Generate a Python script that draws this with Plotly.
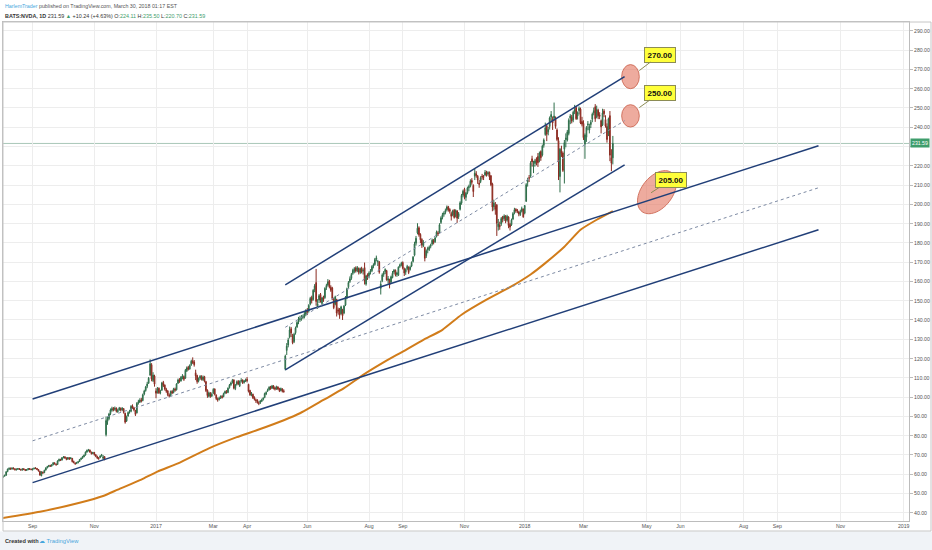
import numpy as np
import pandas as pd
import plotly.graph_objects as go

# NYSE closures inside the traded window (TradingView skips these bars)
NYSE_HOLIDAYS = ["2016-09-05", "2016-11-24", "2016-12-26", "2017-01-02", "2017-01-16",
                 "2017-02-20", "2017-04-14", "2017-05-29", "2017-07-04", "2017-09-04",
                 "2017-11-23", "2017-12-25", "2018-01-01", "2018-01-15", "2018-02-19"]

# daily NVDA bars, 2016-08-01 .. 2018-03-29 (one row per month)
opens = [
    57.6, 58.3, 57.7, 58.5, 59.0, 59.4, 61.4, 62.5, 63.1, 62.6, 63.2, 62.8, 62.3, 62.5, 62.9, 62.4, 62.1, 62.8, 62.4, 62.0, 62.3, 62.9, 62.6,
    62.3, 62.8, 63.2, 63.0, 62.4, 61.5, 59.2, 61.0, 60.8, 62.1, 63.3, 64.0, 64.5, 64.2, 64.9, 65.9, 65.2, 65.0, 66.9, 67.6, 67.3,
    68.6, 69.0, 68.4, 67.8, 68.5, 68.0, 68.2, 66.6, 65.8, 65.6, 66.0, 66.6, 67.7, 68.3, 69.0, 69.9, 71.5, 72.2, 72.5, 71.4, 70.7,
    71.3, 70.1, 69.2, 68.3, 68.6, 69.5, 68.2, 69.1, 80.5, 87.4, 88.8, 91.4, 93.1, 94.2, 93.6, 94.3, 92.4, 93.3, 94.2, 93.4, 94.0,
    91.6, 87.6, 90.2, 92.3, 92.6, 95.4, 94.4, 93.0, 91.8, 97.0, 97.4, 98.6, 98.2, 101.6, 103.4, 105.6, 107.2, 111.4, 116.8, 108.6, 110.9,
    103.2, 102.4, 104.6, 102.4, 103.6, 107.6, 106.2, 104.0, 103.2, 101.0, 100.8, 103.0, 102.4, 104.2, 103.8, 107.2, 109.0, 108.4, 110.0, 110.6,
    109.8, 113.6, 115.4, 114.6, 116.8, 118.8, 118.2, 112.6, 111.2, 108.4, 109.8, 110.6, 109.0, 110.6, 108.0, 103.6, 100.4, 102.0, 100.6,
    102.2, 104.2, 101.0, 99.0, 98.8, 99.6, 100.4, 100.2, 102.0, 102.8, 102.4, 104.9, 106.4, 107.6, 108.9, 104.4, 106.6, 108.2, 105.8, 108.4, 108.8, 107.6, 108.2,
    109.2, 106.6, 103.4, 101.0, 101.4, 99.8, 98.6, 98.4, 97.0, 97.2, 97.8, 98.8, 99.8, 101.6, 103.2, 103.8, 105.2, 104.6, 105.8,
    104.8, 104.2, 105.2, 104.4, 103.4, 104.2, 103.2, 114.5, 124.2, 127.0, 131.2, 135.4, 131.6, 128.8, 133.4, 136.4, 139.6, 140.2, 141.0, 141.2, 141.6, 143.0,
    145.0, 144.6, 148.2, 151.6, 150.6, 155.8, 159.4, 146.2, 150.4, 153.2, 148.6, 151.8, 151.6, 156.8, 158.2, 160.2, 157.0, 156.6, 150.8, 148.2, 150.6, 145.2,
    145.6, 143.2, 145.2, 143.6, 147.8, 151.8, 157.2, 160.0, 161.6, 164.2, 165.2, 167.0, 165.6, 166.8, 164.6, 166.8, 165.4, 167.2, 158.6, 163.4,
    162.8, 164.8, 165.6, 168.0, 168.8, 171.6, 170.2, 170.0, 156.4, 160.4, 163.6, 165.0, 165.6, 160.6, 161.0, 159.6, 162.0, 164.8, 165.8, 163.6, 163.2, 167.8, 168.6,
    169.8, 166.6, 164.8, 166.6, 167.4, 166.2, 168.0, 170.4, 173.6, 179.8, 185.2, 187.8, 184.4, 181.8, 178.6, 177.6, 173.4, 176.4, 176.6, 178.2,
    179.4, 181.2, 180.6, 183.4, 185.2, 185.4, 190.6, 193.2, 194.8, 195.8, 197.2, 198.8, 197.4, 195.2, 194.4, 197.0, 193.8, 196.6, 193.6, 197.4, 200.6, 204.8,
    207.8, 203.6, 206.0, 208.6, 209.4, 212.4, 209.8, 214.6, 215.8, 214.6, 211.0, 211.8, 214.6, 214.4, 215.2, 216.8, 215.8, 216.6, 214.8, 210.6, 198.8,
    199.2, 199.6, 188.4, 189.2, 189.8, 193.6, 192.6, 193.8, 191.8, 193.4, 189.6, 189.4, 192.4, 195.8, 197.4, 196.8, 196.0, 194.6, 196.4, 197.6,
    195.4, 201.6, 211.4, 213.8, 214.6, 223.6, 219.6, 221.2, 223.4, 224.8, 222.6, 227.4, 225.6, 230.6, 236.2, 240.8, 237.6, 240.4, 245.2, 244.4, 244.6,
    244.2, 238.6, 233.0, 214.4, 227.8, 226.6, 228.6, 233.6, 233.4, 236.8, 244.8, 245.2, 243.8, 248.0, 250.2, 245.8, 248.6, 249.4, 243.0,
    242.0, 231.2, 234.8, 241.2, 238.6, 241.4, 244.2, 247.4, 250.6, 245.2, 248.8, 246.4, 243.4, 241.2, 248.4, 244.0, 240.4, 237.6, 246.0, 224.2, 224.11,
]
highs = [
    58.5, 58.6, 58.7, 59.2, 59.8, 61.6, 62.9, 63.5, 63.4, 63.6, 63.5, 63.0, 62.9, 63.2, 63.1, 62.8, 63.0, 63.1, 62.6, 62.7, 63.2, 63.1, 62.9,
    63.0, 63.4, 63.6, 63.2, 62.6, 61.7, 61.5, 61.4, 62.3, 63.6, 64.3, 64.8, 64.9, 65.1, 66.2, 66.1, 65.6, 67.2, 68.1, 68.0, 68.9,
    69.4, 69.3, 68.7, 68.9, 68.8, 68.9, 68.4, 67.0, 66.1, 66.4, 66.8, 67.9, 68.6, 69.5, 70.2, 71.8, 72.8, 73.1, 72.8, 71.7, 71.6,
    71.5, 70.4, 69.6, 68.9, 69.8, 70.5, 69.9, 69.4, 89.9, 89.8, 91.8, 94.1, 95.0, 94.8, 95.1, 94.6, 93.9, 94.9, 94.6, 94.8, 94.3,
    91.9, 90.4, 92.6, 93.3, 95.8, 96.2, 94.9, 93.4, 97.4, 98.6, 99.4, 99.6, 101.8, 103.8, 105.8, 107.9, 110.4, 119.6, 117.6, 112.9, 111.6,
    104.6, 105.2, 105.0, 103.8, 107.9, 108.4, 106.6, 104.8, 103.6, 101.9, 103.4, 103.6, 104.8, 104.9, 107.2, 109.6, 109.8, 110.9, 111.9, 111.2,
    114.6, 115.9, 116.2, 117.0, 119.4, 120.6, 119.2, 114.2, 111.6, 110.2, 111.4, 111.3, 111.2, 111.0, 108.4, 104.0, 102.8, 102.6, 102.4,
    104.6, 104.5, 101.4, 99.8, 100.2, 100.9, 101.0, 102.3, 103.4, 103.6, 105.0, 106.8, 108.0, 109.4, 109.2, 106.8, 108.6, 108.8, 108.6, 109.8, 109.2, 108.9, 109.6,
    110.4, 106.9, 103.8, 102.6, 101.8, 100.4, 99.2, 98.9, 97.8, 98.4, 99.2, 99.9, 102.3, 103.0, 104.4, 105.6, 105.8, 106.3, 106.2,
    105.4, 105.9, 105.6, 104.8, 104.9, 104.6, 104.0, 122.0, 128.0, 130.8, 136.6, 136.4, 132.8, 133.4, 136.6, 139.6, 141.6, 142.2, 142.6, 142.8, 144.6, 145.6,
    146.2, 148.2, 152.0, 152.6, 156.0, 158.6, 166.5, 150.8, 153.4, 154.0, 152.0, 152.6, 157.0, 158.8, 161.2, 160.8, 158.0, 157.2, 151.4, 152.6, 151.0, 146.4,
    146.2, 147.4, 145.8, 147.8, 152.4, 156.8, 160.2, 162.6, 164.4, 166.6, 167.4, 167.8, 168.0, 167.2, 167.2, 167.6, 166.8, 169.8, 163.4, 164.2,
    165.2, 166.4, 168.4, 169.4, 172.2, 173.4, 171.2, 170.6, 160.4, 164.2, 165.4, 166.8, 166.0, 162.8, 161.4, 163.0, 165.4, 166.4, 166.2, 165.0, 167.8, 169.2, 170.2,
    170.4, 167.2, 166.8, 168.6, 167.8, 168.2, 170.4, 173.2, 180.6, 183.6, 190.2, 188.6, 185.0, 182.4, 181.4, 178.0, 176.6, 178.0, 178.6, 179.6,
    182.2, 182.0, 183.2, 186.4, 186.2, 190.2, 193.8, 195.6, 196.4, 197.8, 199.4, 199.2, 198.0, 196.2, 197.2, 197.6, 197.4, 197.0, 196.0, 201.6, 205.4, 207.6,
    208.6, 206.4, 209.2, 210.2, 213.0, 213.6, 210.4, 218.4, 217.2, 215.2, 212.6, 214.6, 215.8, 215.2, 217.8, 217.4, 217.2, 217.0, 215.2, 211.2, 202.4,
    201.2, 200.2, 192.4, 191.0, 193.4, 194.0, 194.8, 194.4, 194.6, 193.8, 190.4, 192.6, 196.0, 198.2, 198.0, 197.6, 196.6, 197.2, 198.8, 197.8,
    199.6, 211.0, 213.8, 215.2, 222.4, 225.2, 222.6, 223.6, 224.4, 226.6, 227.4, 228.0, 231.0, 234.2, 242.4, 241.6, 240.2, 245.6, 248.4, 245.6, 252.8,
    245.6, 239.4, 234.8, 229.2, 230.4, 227.4, 233.4, 236.8, 238.6, 244.6, 246.8, 246.4, 248.6, 251.6, 251.0, 248.2, 250.8, 250.2, 245.4,
    243.6, 236.8, 240.6, 243.2, 241.8, 243.8, 247.6, 250.2, 252.0, 251.2, 249.6, 247.8, 244.0, 249.6, 249.4, 246.2, 242.0, 245.0, 248.4, 228.6, 235.50,
]
lows = [
    57.3, 57.2, 57.4, 58.1, 58.7, 59.2, 61.0, 62.2, 62.3, 62.4, 62.5, 61.9, 61.9, 62.2, 62.2, 61.8, 61.9, 62.1, 61.6, 61.7, 62.1, 62.3, 62.0,
    61.9, 62.5, 62.6, 62.1, 61.4, 59.3, 58.9, 60.2, 60.5, 61.9, 63.0, 63.6, 63.8, 63.9, 64.6, 65.0, 64.4, 64.8, 66.6, 66.8, 67.1,
    68.2, 68.0, 67.2, 67.5, 67.4, 67.8, 66.1, 65.6, 64.9, 65.2, 65.6, 66.4, 67.3, 68.0, 68.8, 69.6, 71.1, 71.8, 71.1, 70.2, 70.3,
    69.6, 68.8, 67.8, 67.5, 68.3, 69.1, 67.4, 67.2, 79.6, 85.6, 88.0, 90.6, 92.4, 92.6, 92.9, 92.0, 91.8, 93.0, 92.5, 92.8, 91.4,
    86.2, 87.1, 89.8, 91.4, 92.1, 93.8, 92.6, 90.2, 91.5, 96.1, 96.9, 97.2, 97.8, 100.9, 102.8, 104.6, 106.8, 111.0, 108.2, 107.8, 105.4,
    99.4, 101.8, 101.6, 101.4, 103.2, 105.2, 103.4, 102.2, 100.4, 99.8, 100.4, 101.5, 101.9, 102.8, 103.4, 106.8, 107.4, 108.0, 109.2, 108.4,
    109.5, 113.0, 113.8, 114.2, 116.2, 117.2, 115.8, 108.8, 106.9, 107.6, 108.9, 108.6, 108.4, 107.6, 102.6, 99.6, 99.8, 99.6, 100.0,
    101.6, 100.8, 98.4, 97.6, 98.2, 99.0, 99.2, 99.9, 101.5, 101.8, 102.0, 104.4, 105.8, 107.0, 104.0, 103.6, 106.0, 106.2, 105.2, 107.6, 106.8, 107.0, 107.8,
    107.6, 102.4, 100.6, 100.4, 99.0, 98.2, 97.0, 96.6, 95.8, 96.4, 97.4, 98.2, 99.4, 101.0, 102.6, 103.4, 103.8, 104.2, 104.0,
    103.4, 103.8, 103.6, 102.6, 102.9, 102.4, 102.2, 113.9, 121.8, 125.8, 130.4, 131.2, 127.4, 128.0, 132.4, 135.8, 137.8, 139.0, 139.6, 140.4, 140.8, 142.0,
    142.6, 143.8, 147.6, 148.6, 150.0, 154.4, 147.4, 145.8, 148.8, 149.0, 147.2, 149.4, 151.0, 155.6, 157.4, 156.4, 154.6, 150.4, 145.6, 147.6, 141.8, 142.8,
    140.6, 142.8, 140.0, 143.0, 147.2, 150.8, 156.4, 159.2, 160.8, 163.4, 164.2, 164.6, 164.8, 163.6, 163.8, 164.2, 163.6, 158.4, 157.8, 160.8,
    161.6, 163.6, 164.8, 166.8, 168.2, 170.4, 168.0, 164.0, 153.2, 159.6, 162.4, 163.8, 160.4, 158.8, 156.4, 159.0, 161.6, 163.8, 162.6, 162.4, 162.8, 167.0, 167.8,
    166.2, 162.8, 163.4, 165.8, 163.8, 165.6, 167.4, 169.8, 173.0, 178.6, 184.4, 183.2, 179.8, 177.4, 177.8, 170.4, 172.2, 174.6, 175.8, 177.2,
    178.6, 179.2, 180.0, 182.8, 183.6, 185.0, 189.8, 192.2, 193.6, 194.8, 196.4, 196.2, 195.2, 191.6, 193.8, 192.6, 193.2, 190.4, 192.4, 196.8, 199.8, 203.6,
    202.6, 201.8, 205.2, 206.8, 208.8, 210.2, 203.8, 212.6, 213.8, 210.6, 208.6, 211.0, 212.8, 212.6, 214.6, 214.4, 214.8, 212.6, 209.4, 196.4, 196.8,
    194.6, 183.6, 186.4, 186.8, 188.8, 190.6, 191.4, 190.2, 191.0, 187.6, 186.4, 188.8, 191.8, 194.8, 195.6, 195.4, 193.8, 194.0, 195.8, 193.0,
    194.8, 201.2, 209.2, 211.6, 213.8, 219.6, 216.2, 219.6, 220.2, 219.4, 221.8, 222.6, 224.8, 229.4, 235.6, 232.8, 235.8, 238.8, 242.8, 238.6, 243.4,
    239.2, 232.8, 212.6, 206.2, 224.6, 216.8, 210.8, 229.6, 232.6, 235.8, 241.6, 242.0, 242.6, 246.8, 243.8, 244.0, 246.6, 241.6, 240.4,
    233.4, 223.6, 232.4, 238.4, 236.8, 239.6, 242.6, 246.2, 242.8, 244.6, 244.2, 244.2, 236.8, 240.6, 245.2, 239.8, 232.0, 235.4, 222.4, 217.2, 220.70,
]
closes = [
    58.2, 57.6, 58.4, 58.9, 59.3, 61.2, 62.6, 63.0, 62.7, 63.1, 62.8, 62.3, 62.6, 62.9, 62.5, 62.2, 62.8, 62.4, 62.0, 62.3, 62.9, 62.6, 62.4,
    62.7, 63.1, 63.0, 62.5, 61.6, 59.5, 61.2, 60.6, 62.0, 63.2, 63.9, 64.4, 64.1, 64.8, 65.9, 65.4, 64.9, 66.8, 67.6, 67.2, 68.5,
    68.9, 68.4, 67.7, 68.6, 67.9, 68.3, 66.5, 66.0, 65.4, 65.9, 66.4, 67.6, 68.2, 69.1, 69.8, 71.4, 72.3, 72.6, 71.5, 70.6, 71.2,
    70.2, 69.3, 68.4, 68.0, 69.4, 70.0, 69.0, 67.9, 87.8, 88.6, 91.2, 93.3, 94.0, 93.4, 94.2, 92.6, 93.1, 94.4, 93.3, 94.2, 92.0,
    87.0, 89.8, 92.0, 92.4, 95.2, 94.6, 93.4, 91.0, 96.8, 97.6, 98.3, 97.9, 101.2, 103.1, 105.2, 106.8, 109.8, 117.3, 109.3, 111.4, 106.7,
    102.0, 104.4, 102.2, 102.7, 107.3, 106.0, 104.2, 103.0, 101.2, 100.5, 102.9, 102.1, 104.3, 103.6, 106.8, 108.9, 108.2, 110.3, 111.0, 109.2,
    113.9, 115.2, 114.4, 116.4, 118.6, 117.8, 116.8, 111.0, 108.0, 109.6, 110.8, 109.2, 110.4, 108.2, 103.4, 100.8, 102.2, 100.4, 101.4,
    104.0, 101.3, 99.2, 98.6, 99.4, 100.3, 99.8, 101.8, 102.9, 102.3, 104.6, 106.1, 107.3, 108.7, 104.6, 106.3, 107.9, 106.8, 108.2, 108.6, 107.4, 108.3, 108.9,
    108.6, 103.0, 101.2, 101.6, 99.6, 98.8, 98.2, 97.1, 96.8, 98.0, 98.6, 99.4, 101.8, 102.4, 103.6, 105.1, 104.3, 105.8, 104.6,
    104.1, 105.4, 104.2, 103.3, 104.5, 103.0, 102.9, 121.3, 126.4, 129.6, 134.8, 133.3, 128.2, 132.6, 135.8, 138.7, 139.8, 140.6, 141.4, 141.8, 143.2, 144.8,
    144.1, 147.6, 151.2, 150.0, 155.4, 157.6, 149.6, 148.4, 152.6, 150.2, 151.4, 150.6, 156.4, 157.9, 159.8, 157.2, 155.4, 151.2, 146.4, 152.0, 143.6, 144.6,
    142.4, 146.8, 142.2, 147.2, 151.8, 156.2, 159.4, 161.4, 163.6, 165.8, 166.6, 165.4, 167.2, 164.8, 166.6, 165.0, 165.8, 160.2, 162.8, 162.3,
    164.4, 165.2, 167.8, 168.6, 171.4, 172.2, 170.4, 164.8, 158.6, 163.4, 164.6, 166.2, 160.8, 161.4, 158.2, 162.4, 164.2, 165.8, 163.4, 164.4, 167.4, 168.4, 169.4,
    166.8, 164.4, 166.2, 167.8, 164.6, 167.4, 169.8, 172.6, 179.4, 182.4, 187.6, 184.2, 181.6, 178.8, 180.2, 172.0, 175.8, 177.2, 177.8, 178.8,
    181.4, 180.2, 182.6, 185.6, 184.8, 189.4, 193.0, 194.6, 195.4, 196.8, 198.6, 197.2, 196.4, 193.8, 196.6, 193.2, 196.8, 192.8, 195.2, 200.8, 204.6, 206.8,
    204.2, 205.8, 208.4, 209.2, 212.0, 211.4, 206.6, 216.2, 215.0, 212.6, 210.4, 213.8, 214.2, 214.0, 216.6, 215.4, 216.4, 214.2, 210.2, 198.6, 200.6,
    197.4, 190.2, 189.8, 188.4, 192.6, 192.2, 194.0, 191.4, 193.8, 189.0, 188.2, 191.8, 195.2, 197.2, 196.6, 196.4, 195.0, 196.2, 197.8, 193.5,
    199.4, 210.2, 212.6, 213.6, 221.4, 222.0, 220.4, 222.6, 222.2, 221.6, 226.6, 224.2, 230.2, 233.4, 239.6, 236.4, 238.8, 244.8, 246.6, 242.2, 245.8,
    240.4, 233.6, 222.4, 228.6, 226.4, 217.6, 232.0, 234.4, 237.6, 243.6, 245.8, 243.2, 247.8, 249.2, 244.4, 247.6, 249.8, 242.2, 241.6,
    234.6, 236.0, 239.8, 241.6, 240.4, 242.6, 246.8, 248.6, 244.4, 249.2, 246.0, 245.6, 240.2, 247.4, 247.0, 240.6, 233.6, 244.4, 225.5, 221.35, 231.59,
]

# 200-day moving average, read at a few points along the orange curve
sma_dates = ["2016-08-01", "2016-09-09", "2016-10-18", "2016-11-09", "2016-11-23", "2016-12-16",
             "2017-01-04", "2017-01-25", "2017-02-24", "2017-03-23", "2017-04-12", "2017-05-09",
             "2017-05-24", "2017-06-16", "2017-07-07", "2017-07-26", "2017-08-14", "2017-09-01",
             "2017-09-22", "2017-10-11", "2017-10-30", "2017-11-22", "2017-12-15", "2018-01-08",
             "2018-01-23", "2018-02-09", "2018-02-27", "2018-03-14", "2018-03-29"]
sma_values = [36.9, 40.5, 45.2, 48.7, 52.0, 57.2, 61.3, 65.6, 73.4, 79.2, 82.9, 88.0, 91.6, 98.5,
              104.6, 111.5, 117.6, 123.6, 129.7, 134.9, 142.7, 150.5, 157.0, 163.6, 169.5, 178.0,
              186.8, 192.0, 196.5]

tick_dates = ["2016-09-01", "2016-11-01", "2017-01-03", "2017-03-01", "2017-04-03", "2017-06-01",
              "2017-08-01", "2017-09-01", "2017-11-01", "2018-01-02", "2018-03-01", "2018-05-01",
              "2018-06-01", "2018-08-01", "2018-09-03", "2018-11-01", "2019-01-01"]
tick_text = ["Sep", "Nov", "2017", "Mar", "Apr", "Jun", "Aug", "Sep", "Nov", "2018", "Mar", "May",
             "Jun", "Aug", "Sep", "Nov", "2019"]
# price scale labels (230 is hidden behind the last-price tag)
price_ticks = [40, 50, 60, 70, 80, 90, 100, 110, 120, 130, 140, 150, 160, 170, 180, 190, 200,
               210, 220, 240, 250, 260, 270, 280, 290]

# hand drawn channels: anchor dates and prices at both ends
wide_dates = ["2016-09-01", "2018-10-11"]
wide_upper = [99.0, 230.4]
wide_mid = [77.3, 208.6]
wide_lower = [55.6, 186.8]
steep_dates = ["2017-05-10", "2018-04-10"]
steep_upper = [158.2, 266.3]
steep_mid = [136.2, 243.4]
steep_lower = [114.1, 220.5]

# price targets (callouts) and the marker circles
target_labels = ["270.00", "250.00", "205.00"]
target_dates = ["2018-04-24", "2018-04-24", "2018-05-04"]
target_prices = [269.4, 250.2, 206.0]
circle_dates = ["2018-04-06", "2018-04-24"]
circle_top = [260.0, 272.5]
circle_mid = [240.1, 251.7]
ellipse_date = "2018-05-10"
ellipse_price = 206.3

last_price = 231.59

# plot geometry (px)
PLOT_L, PLOT_T, PLOT_W, PLOT_H = 3, 22, 906, 499
X_RANGE = [2.85, 619.6]
Y_RANGE = [35.7, 294.6]


def paper_y(py):
    return (PLOT_T + PLOT_H - py) / PLOT_H


def paper_x(px):
    return (px - PLOT_L) / PLOT_W


hist = pd.bdate_range("2016-08-01", "2018-03-29", freq="C", holidays=NYSE_HOLIDAYS)
future = pd.bdate_range("2018-03-30", "2019-02-28")
bars = hist.append(future)


def bar_of(d):
    return int(bars.searchsorted(pd.Timestamp(d)))


n = min(len(opens), len(highs), len(lows), len(closes))
x = list(range(n))

NAVY = "#213f78"
DASH = "#7d8aa3"
FONT = "Liberation Sans"

fig = go.Figure()

fig.add_trace(go.Scatter(
    x=[bar_of(d) for d in sma_dates], y=sma_values, mode="lines",
    line=dict(color="#d17c1a", width=2, shape="spline", smoothing=0.5), hoverinfo="skip",
))

fig.add_trace(go.Candlestick(
    x=x, open=opens[:n], high=highs[:n], low=lows[:n], close=closes[:n],
    increasing=dict(line=dict(color="#2f6e4a", width=1), fillcolor="#6ba583"),
    decreasing=dict(line=dict(color="#8a2a20", width=1), fillcolor="#d75442"),
    whiskerwidth=0, hoverinfo="skip",
))

for dates, ys, dashed in [
    (wide_dates, wide_upper, False), (wide_dates, wide_lower, False), (wide_dates, wide_mid, True),
    (steep_dates, steep_upper, False), (steep_dates, steep_lower, False), (steep_dates, steep_mid, True),
]:
    fig.add_trace(go.Scatter(
        x=[bar_of(d) for d in dates], y=ys, mode="lines", hoverinfo="skip",
        line=dict(color=DASH if dashed else NAVY, width=1 if dashed else 1.5,
                  dash="3px,3px" if dashed else "solid"),
    ))

shapes = []
# footer band and outer frame
shapes.append(dict(type="rect", xref="paper", yref="paper", x0=-0.01, x1=1.04,
                   y0=paper_y(552), y1=paper_y(531.5), fillcolor="#f0f3f7", line_width=0,
                   layer="below"))
shapes.append(dict(type="rect", xref="paper", yref="paper", x0=0, x1=paper_x(931),
                   y0=paper_y(531), y1=1, line=dict(color="#c6c6c6", width=1)))
# last price line
shapes.append(dict(type="line", xref="paper", yref="y", x0=0, x1=1, y0=last_price, y1=last_price,
                   line=dict(color="#a9c7b8", width=1), layer="between"))

CIRCLE_FILL = "rgba(228,120,98,0.62)"
CIRCLE_LINE = "rgba(205,105,85,0.9)"
for ys in (circle_top, circle_mid):
    shapes.append(dict(type="circle", xref="x", yref="y",
                       x0=bar_of(circle_dates[0]), x1=bar_of(circle_dates[1]), y0=ys[0], y1=ys[1],
                       fillcolor=CIRCLE_FILL, line=dict(color=CIRCLE_LINE, width=1),
                       layer="between"))

# tilted ellipse round the 205 target, drawn in screen pixels then mapped to data units
px_bar = PLOT_W / (X_RANGE[1] - X_RANGE[0])
px_price = PLOT_H / (Y_RANGE[1] - Y_RANGE[0])
t = np.linspace(0, 2 * np.pi, 73)
tilt = np.radians(52)
dx = 24.5 * np.cos(t) * np.cos(tilt) - 15.5 * np.sin(t) * np.sin(tilt)
dy = 24.5 * np.cos(t) * np.sin(tilt) + 15.5 * np.sin(t) * np.cos(tilt)
ecx = bar_of(ellipse_date)
pts = [f"{ecx + a / px_bar:.3f},{ellipse_price + b / px_price:.3f}" for a, b in zip(dx, dy)]
shapes.append(dict(type="path", xref="x", yref="y", path="M " + " L ".join(pts) + " Z",
                   fillcolor=CIRCLE_FILL, line=dict(color=CIRCLE_LINE, width=1), layer="between"))

annotations = []
offsets = [(21, -16), (21, -15), (20, -13)]
for label, d, p, (ax, ay) in zip(target_labels, target_dates, target_prices, offsets):
    annotations.append(dict(
        x=bar_of(d), y=p, xref="x", yref="y", text=f"<b>{label}</b>",
        showarrow=True, arrowhead=0, arrowwidth=1, arrowcolor="#8c8c55", ax=ax, ay=ay,
        bgcolor="#ffff3a", bordercolor="#8c8c55", borderwidth=1, borderpad=2.5,
        font=dict(size=8, color="#111", family=FONT),
    ))

# right-hand price scale
for v in price_ticks:
    annotations.append(dict(
        xref="paper", yref="y", x=1, y=v, xanchor="left", xshift=3, showarrow=False,
        text=f"{v:.2f}", font=dict(size=5.2, color="#555", family=FONT),
    ))

GREEN = "#3f9d6c"
annotations.append(dict(
    xref="paper", yref="y", x=1, y=last_price, xanchor="left", xshift=1, showarrow=False,
    text=f"{last_price:.2f}", bgcolor=GREEN, borderpad=1,
    font=dict(size=5.2, color="white", family=FONT),
))

annotations.append(dict(
    xref="paper", yref="paper", x=0, y=paper_y(6), xanchor="left", yanchor="middle",
    showarrow=False, font=dict(size=5.3, color="#555", family=FONT),
    text="<span style='color:#48a6dc'>HarlemTrader</span> published on TradingView.com, "
         "March 30, 2018 01:17 EST",
))
g = lambda s: f"<span style='color:{GREEN}'>{s}</span>"
annotations.append(dict(
    xref="paper", yref="paper", x=0, y=paper_y(16), xanchor="left", yanchor="middle",
    showarrow=False, font=dict(size=5.4, color="#333", family=FONT),
    text=f"<b>BATS:NVDA, 1D</b> 231.59 {g('▲')} +10.24 (+4.63%) O:{g('224.11')} "
         f"H:{g('235.50')} L:{g('220.70')} C:{g('231.59')}",
))
annotations.append(dict(
    xref="paper", yref="paper", x=0, y=paper_y(541), xanchor="left", yanchor="middle",
    showarrow=False, font=dict(size=5.6, color="#333", family=FONT),
    text="<b>Created with</b>",
))
annotations.append(dict(
    xref="paper", yref="paper", x=paper_x(37), y=paper_y(541), xanchor="left", yanchor="middle",
    showarrow=False, font=dict(size=5.8, color="#48a6dc", family=FONT),
    text="☁ TradingView",
))

fig.update_layout(
    width=932, height=550, template="none",
    margin=dict(l=PLOT_L, r=932 - PLOT_L - PLOT_W, t=PLOT_T, b=550 - PLOT_T - PLOT_H,
                autoexpand=False),
    paper_bgcolor="white", plot_bgcolor="white",
    showlegend=False, hovermode=False,
    font=dict(family=FONT, size=6, color="#555"),
    shapes=shapes, annotations=annotations,
)
fig.update_xaxes(
    range=X_RANGE, tickvals=[bar_of(d) for d in tick_dates], ticktext=tick_text,
    showgrid=True, gridcolor="#ededed", gridwidth=1, zeroline=False,
    showline=True, linecolor="#bcbcbc", linewidth=1, mirror=True, ticks="",
    tickfont=dict(size=5.2, color="#555"), rangeslider_visible=False, fixedrange=True,
    automargin=False,
)
fig.update_yaxes(
    range=Y_RANGE, side="right", tick0=0, dtick=10, showticklabels=False,
    showgrid=True, gridcolor="#ededed", gridwidth=1, zeroline=False,
    showline=True, linecolor="#bcbcbc", linewidth=1, mirror=True,
    ticks="outside", ticklen=3, tickcolor="#bcbcbc", fixedrange=True, automargin=False,
)

# the page's default body margin would push the chart 8px off the window
fig.write_html("out.html", config={"displayModeBar": False},
               post_script="document.body.style.margin='0';")
